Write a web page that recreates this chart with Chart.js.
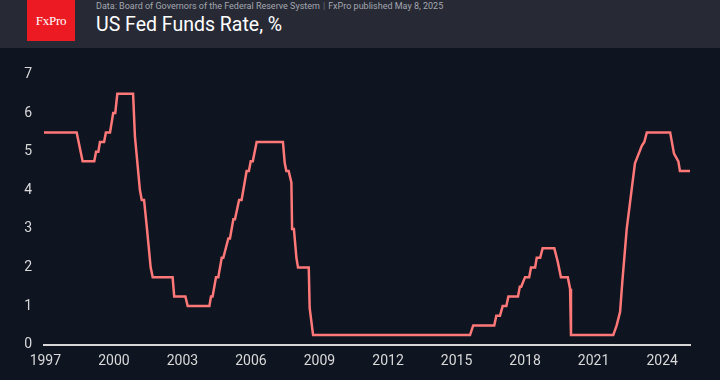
<!DOCTYPE html>
<html>
<head>
<meta charset="utf-8">
<script src="https://cdn.jsdelivr.net/npm/chart.js@4.4.1/dist/chart.umd.min.js"></script>
<style>
  html, body { margin: 0; padding: 0; }
  body { width: 720px; height: 380px; background: #0e1420; overflow: hidden; font-family: Roboto, "Noto Sans", sans-serif; }
  .header { position: relative; height: 48px; background: #272a35; }
  .logo { position: absolute; left: 27px; top: 0; width: 48px; height: 41px; background: #ec1b23;
          color: #fff; font-family: "Liberation Serif", "DejaVu Serif", serif; font-size: 13px;
          line-height: 41px; text-align: center; letter-spacing: -0.3px; }
  .source { position: absolute; left: 96px; top: 1px; font-size: 9px; color: #a4a7b0; white-space: nowrap; }
  .source .sep { color: #6b6e78; margin: 0 3px; }
  .title { position: absolute; left: 96px; top: 13px; font-size: 19.5px; color: #fff; white-space: nowrap; }
  .chart-box { position: relative; width: 720px; height: 332px; }
</style>
</head>
<body>
<div class="header">
  <div class="logo">FxPro</div>
  <div class="source">Data: Board of Governors of the Federal Reserve System<span class="sep">|</span>FxPro published May 8, 2025</div>
  <div class="title">US Fed Funds Rate, %</div>
</div>
<div class="chart-box"><canvas id="myChart"></canvas></div>
<script>
// dates as decimal years (turning points of the line)
let rateDates = [
    1996.94, 1998.37, 1998.63, 1999.14, 1999.22, 1999.32, 1999.39, 1999.57, 1999.65, 1999.83,
    1999.97, 2000.06, 2000.15, 2000.84, 2000.92, 2001.14, 2001.22, 2001.32, 2001.44, 2001.61,
    2001.70, 2002.57, 2002.64, 2003.13, 2003.23, 2004.18, 2004.25, 2004.32, 2004.47, 2004.57,
    2004.72, 2004.79, 2005.01, 2005.08, 2005.23, 2005.30, 2005.48, 2005.59, 2005.81, 2005.91,
    2005.99, 2006.08, 2006.25, 2007.40, 2007.48, 2007.55, 2007.65, 2007.77, 2007.80, 2007.88,
    2007.99, 2008.06, 2008.53, 2008.57, 2008.72, 2015.59, 2015.73, 2016.65, 2016.74, 2016.90,
    2017.02, 2017.18, 2017.27, 2017.69, 2017.77, 2017.83, 2018.00, 2018.18, 2018.26, 2018.44,
    2018.51, 2018.66, 2018.77, 2019.28, 2019.43, 2019.57, 2019.87, 2019.97, 2020.01, 2021.86,
    2022.01, 2022.16, 2022.26, 2022.45, 2022.81, 2023.11, 2023.22, 2023.33, 2024.35, 2024.52,
    2024.71, 2024.78, 2025.22
];

// fed funds rate, %
let rateValues = [
    5.5, 5.5, 4.75, 4.75, 5.0, 5.0, 5.25, 5.25, 5.5, 5.5,
    6.0, 6.0, 6.5, 6.5, 5.4, 4.0, 3.75, 3.75, 3.05, 2.0,
    1.75, 1.75, 1.25, 1.25, 1.0, 1.0, 1.25, 1.25, 1.75, 1.75,
    2.25, 2.25, 2.75, 2.75, 3.25, 3.25, 3.75, 3.75, 4.5, 4.5,
    4.75, 4.75, 5.25, 5.25, 4.7, 4.5, 4.5, 4.2, 3.0, 3.0,
    2.25, 2.0, 2.0, 0.95, 0.25, 0.25, 0.5, 0.5, 0.75, 0.75,
    1.0, 1.0, 1.25, 1.25, 1.5, 1.5, 1.75, 1.75, 2.0, 2.0,
    2.25, 2.25, 2.5, 2.5, 2.15, 1.75, 1.75, 1.45, 0.25, 0.25,
    0.5, 0.85, 1.65, 3.0, 4.7, 5.15, 5.25, 5.5, 5.5, 4.95,
    4.75, 4.5, 4.5
];

let xTicks = [1997, 2000, 2003, 2006, 2009, 2012, 2015, 2018, 2021, 2024];
let yTicks = [0, 1, 2, 3, 4, 5, 6, 7];

let points = [];
for (let i = 0; i < rateDates.length; i++) {
    points.push({ x: rateDates[i], y: rateValues[i] });
}

let tickFont = { family: 'Roboto', size: 14 };

let ctx = document.getElementById('myChart');
let myChart = new Chart(ctx, {
    type: 'line',
    data: {
        datasets: [{
            data: points,
            borderColor: '#ff7878',
            borderWidth: 2.5,
            pointRadius: 0,
            tension: 0,
            fill: false
        }]
    },
    options: {
        responsive: true,
        maintainAspectRatio: false,
        animation: false,
        layout: { padding: { top: 26.5, right: 30, bottom: 2.5, left: 0 } },
        plugins: { legend: { display: false }, tooltip: { enabled: false } },
        scales: {
            x: {
                type: 'linear',
                min: 1996.94,
                max: 2025.22,
                afterBuildTicks: function(scale) {
                    scale.ticks = xTicks.map(v => ({ value: v }));
                },
                grid: { display: false, drawTicks: false },
                border: { display: true, color: '#d6d6d6', width: 2 },
                ticks: {
                    color: '#d9d9d9',
                    font: tickFont,
                    padding: 8,
                    maxRotation: 0,
                    autoSkip: false,
                    callback: function(v) { return String(v); }
                }
            },
            y: {
                min: 0,
                max: 7,
                afterBuildTicks: function(scale) {
                    scale.ticks = yTicks.map(v => ({ value: v }));
                },
                afterFit: function(scale) { scale.width = 44; },
                grid: { display: false, drawTicks: false },
                border: { display: false },
                ticks: {
                    color: '#d9d9d9',
                    font: tickFont,
                    padding: 12
                }
            }
        }
    }
});
</script>
</body>
</html>
